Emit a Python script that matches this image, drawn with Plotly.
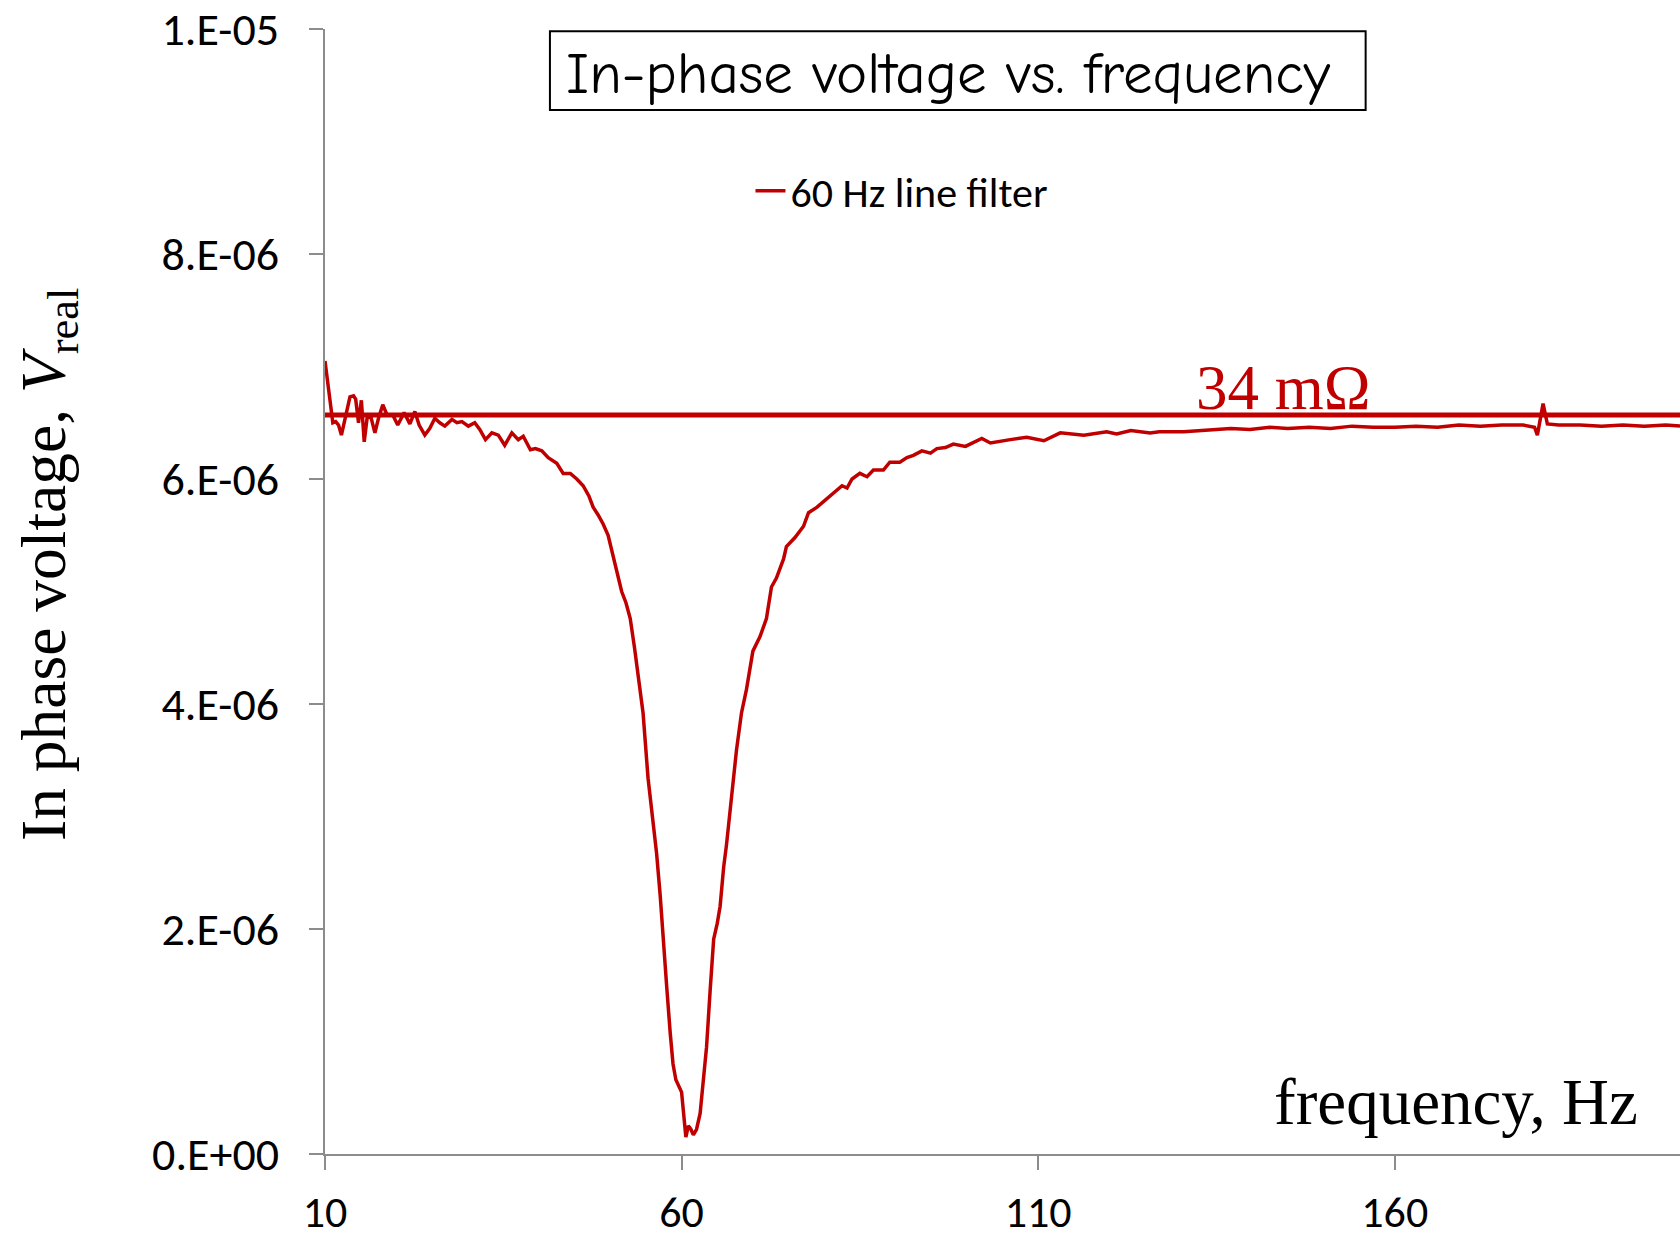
import plotly.graph_objects as go

# Frequency (Hz) and in-phase voltage (microvolts)
freq_hz = [
    10.0, 10.6, 11.1, 11.5, 11.9, 12.3, 12.8, 13.5, 14.0, 14.3, 14.7, 15.1, 15.5, 15.9,
    16.4, 17.0, 17.5, 18.1, 18.7, 19.5, 20.2, 21.1, 21.9, 22.6, 23.2, 24.0, 24.7, 25.4,
    26.1, 26.8, 27.8, 28.5, 29.2, 30.1, 31.0, 31.7, 32.5, 33.4, 34.3, 35.2, 36.2, 37.1,
    37.8, 38.8, 39.5, 40.4, 41.3, 42.5, 43.4, 44.4, 45.3, 46.2, 47.0, 47.6, 48.3, 49.0,
    49.7, 50.4, 51.0, 51.6, 52.2, 52.8, 53.4, 53.9, 54.6, 55.3, 55.9, 56.5, 57.0, 57.4,
    57.9, 58.4, 58.8, 59.2, 60.0, 60.3, 60.6, 60.95, 61.3, 61.65, 62.1, 62.6, 63.0, 63.5,
    64.0, 64.5, 65.0, 65.4, 65.9, 66.3, 67.0, 67.7, 68.4, 69.1, 70.0, 71.0, 71.9, 72.6,
    73.3, 74.3, 74.7, 75.9, 77.1, 77.8, 79.0, 80.4, 81.8, 82.5, 83.2, 83.9, 85.0, 86.0,
    86.9, 88.3, 89.2, 90.6, 91.6, 92.5, 93.7, 94.9, 95.8, 97.0, 98.1, 99.8, 102.1, 103.3,
    106.1, 108.4, 110.8, 113.1, 116.4, 118.2, 119.6, 121.0, 123.0, 125.7, 127.0, 130.4,
    133.0, 135.1, 137.0, 139.7, 142.5, 145.0, 148.0, 151.0, 154.0, 157.0, 160.0, 163.0,
    166.0, 169.0, 172.0, 175.0, 178.0, 179.6, 180.0, 180.8, 181.4, 183.0, 186.0, 189.0,
    192.0, 195.0, 198.0, 200.0,
]
v_real_uv = [
    7.05, 6.76, 6.50, 6.51, 6.48, 6.39, 6.53, 6.73, 6.74, 6.71, 6.50, 6.70, 6.33, 6.54,
    6.56, 6.41, 6.54, 6.66, 6.57, 6.57, 6.48, 6.59, 6.49, 6.60, 6.48, 6.39, 6.45, 6.54,
    6.50, 6.47, 6.53, 6.50, 6.51, 6.47, 6.50, 6.44, 6.35, 6.41, 6.39, 6.30, 6.41, 6.35,
    6.38, 6.26, 6.27, 6.25, 6.19, 6.14, 6.05, 6.05, 6.00, 5.94, 5.85, 5.75, 5.68, 5.60,
    5.50, 5.31, 5.18, 5.00, 4.90, 4.76, 4.50, 4.26, 3.92, 3.34, 3.00, 2.67, 2.30, 1.91,
    1.50, 1.08, 0.80, 0.66, 0.55, 0.35, 0.15, 0.25, 0.22, 0.17, 0.22, 0.36, 0.60, 0.95,
    1.45, 1.91, 2.05, 2.20, 2.55, 2.75, 3.17, 3.59, 3.92, 4.13, 4.47, 4.60, 4.76, 5.04,
    5.12, 5.29, 5.40, 5.48, 5.58, 5.70, 5.75, 5.83, 5.90, 5.94, 5.92, 6.00, 6.05, 6.02,
    6.08, 6.08, 6.15, 6.15, 6.19, 6.21, 6.25, 6.23, 6.27, 6.28, 6.31, 6.29, 6.36, 6.32,
    6.35, 6.37, 6.34, 6.41, 6.39, 6.41, 6.42, 6.40, 6.43, 6.41, 6.42, 6.42,
    6.43, 6.44, 6.45, 6.44, 6.46, 6.45, 6.46, 6.45, 6.47, 6.46, 6.46, 6.47,
    6.46, 6.48, 6.47, 6.48, 6.48, 6.46, 6.39, 6.67, 6.49, 6.48, 6.48, 6.47,
    6.48, 6.47, 6.48, 6.47,
]
ref_level_uv = 6.57
ref_label = "34 mΩ"
series_name = "60 Hz line filter"
x_ticks = [10, 60, 110, 160]
y_tickvals_uv = [0, 2, 4, 6, 8, 10]
y_ticktext = ["0.E+00", "2.E-06", "4.E-06", "6.E-06", "8.E-06", "1.E-05"]

RED = "#C00000"
AXIS = "#8c8c8c"
SANS = "Carlito, Lato, sans-serif"
SERIF = "Liberation Serif, Times New Roman, serif"

v_real = [v * 1e-6 for v in v_real_uv]
ref_level = ref_level_uv * 1e-6

fig = go.Figure()
fig.add_trace(go.Scatter(
    x=freq_hz, y=v_real, mode="lines", name=series_name,
    line=dict(color=RED, width=3.5),
))
fig.add_trace(go.Scatter(
    x=[freq_hz[0], freq_hz[-1]], y=[ref_level, ref_level], mode="lines",
    line=dict(color=RED, width=5), showlegend=False, hoverinfo="skip",
))

fig.update_layout(
    width=1680, height=1238,
    margin=dict(l=325, r=0, t=29, b=84),
    paper_bgcolor="white", plot_bgcolor="white",
    showlegend=True,
    legend=dict(
        x=0.314, y=0.856, xanchor="left", yanchor="middle",
        font=dict(family=SANS, size=42, color="black"),
        bgcolor="rgba(0,0,0,0)",
    ),
    xaxis=dict(
        range=[10, 200], tickvals=x_ticks, ticktext=[str(t) for t in x_ticks],
        showgrid=False, zeroline=False, showline=True, linecolor=AXIS, linewidth=1.5,
        ticks="outside", ticklen=14, tickcolor=AXIS, tickwidth=1.5,
        tickfont=dict(family=SANS, size=44, color="black"),
        ticklabelstandoff=4, automargin=False,
    ),
    yaxis=dict(
        range=[0, 1e-5], tickvals=[v * 1e-6 for v in y_tickvals_uv], ticktext=y_ticktext,
        showgrid=False, zeroline=False, showline=True, linecolor=AXIS, linewidth=1.5,
        ticks="outside", ticklen=14, tickcolor=AXIS, tickwidth=1.5,
        tickfont=dict(family=SANS, size=46, color="black"),
        ticklabelstandoff=21, automargin=False,
    ),
    shapes=[dict(
        type="rect", xref="paper", yref="paper",
        x0=0.166, x1=0.768, y0=0.928, y1=0.998,
        line=dict(color="black", width=2), fillcolor="white", layer="above",
    )],
    annotations=[
        dict(text="In-phase voltage vs. frequency", xref="paper", yref="paper",
             x=0.460, y=0.960, xanchor="center", yanchor="middle", showarrow=False,
             font=dict(family="Comic Sans MS, Comic Neue, Lato, sans-serif", size=59, color="black")),
        dict(text=ref_label, xref="x", yref="y", x=144.4, y=ref_level,
             xanchor="center", yanchor="bottom", yshift=-10, showarrow=False,
             font=dict(family=SERIF, size=63, color=RED)),
        dict(text="frequency, Hz", xref="paper", yref="paper",
             x=0.9705, y=0.046, xanchor="right", yanchor="middle", showarrow=False,
             font=dict(family=SERIF, size=65, color="black")),
        dict(text="In phase voltage, <i>V</i><sub>real</sub>", xref="paper", yref="paper",
             x=-0.2044, y=0.5236, xanchor="center", yanchor="middle", showarrow=False,
             textangle=-90, font=dict(family=SERIF, size=63.5, color="black")),
    ],
)

fig.write_html("out.html")
